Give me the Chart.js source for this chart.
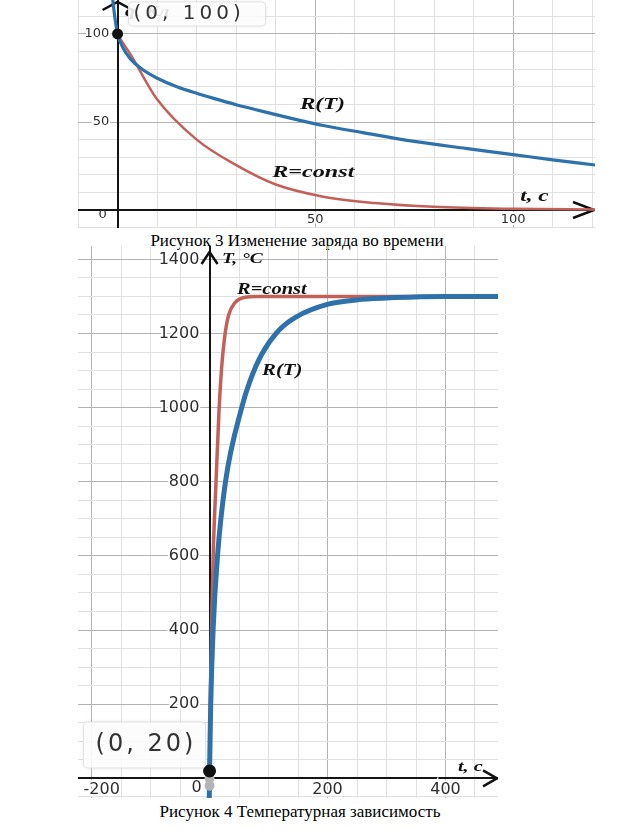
<!DOCTYPE html>
<html>
<head>
<meta charset="utf-8">
<script src="https://cdn.jsdelivr.net/npm/chart.js@4.4.1/dist/chart.umd.min.js"></script>
<style>
  html, body { margin: 0; padding: 0; background: #fff; }
  body { width: 640px; height: 835px; position: relative; overflow: hidden; }
  .plot { position: absolute; }
  .caption {
    position: absolute; left: 0; text-align: center; color: #000;
    font-family: "Liberation Serif", "Times New Roman", serif; font-size: 17px;
  }
</style>
</head>
<body>
<div class="plot" style="left:78px;top:0;width:517px;height:228px"><canvas id="chargeChart"></canvas></div>
<div class="caption" style="top:231px;width:594px">Рисунок 3 Изменение заряда во времени</div>
<div class="plot" style="left:78px;top:246px;width:420px;height:552px"><canvas id="tempChart"></canvas></div>
<div class="caption" style="top:802px;width:600px">Рисунок 4 Температурная зависимость</div>

<script>
// Рисунок 3 - charge q(t)
const chargeTimeRT = [-1.5, -0.6, 0, 1.4, 3.2, 6.5, 9.9, 15, 20, 25, 30, 35, 40, 45, 52, 62, 75, 88, 100, 110, 121];
const chargeRT     = [125, 108, 100, 92, 86, 79.5, 75, 70, 66.3, 63, 59.8, 57, 54.2, 51.5, 48, 44, 39, 35, 31.5, 28.5, 25.5];
const chargeTimeConst = [-0.6, 0, 3.4, 9.8, 20, 30, 40, 52, 65, 80, 100, 121];
const chargeConst     = [103, 100, 88, 63.5, 40, 25.5, 14.5, 7.6, 4, 1.8, 0.7, 0.3];
const chargeStartPoint = [0, 100];
const chargeTickLabelsX = [50, 100];
const chargeTickLabelsY = [50, 100];

// Рисунок 4 - temperature T(t)
const tempTimeRT = [-0.5, 0, 2, 6, 13.5, 27, 54.5, 68.6, 88.5, 116.6, 145, 201, 258, 314, 400, 489];
const tempRT     = [-60, 20, 200, 400, 600, 800, 1000, 1072, 1144, 1207, 1243, 1279, 1292, 1297, 1300, 1300];
const tempTimeConst = [-0.3, 0, 2, 4, 6.5, 11, 16, 20.6, 26, 32, 43, 60, 80, 489];
const tempConst     = [-60, 20, 270, 450, 620, 800, 990, 1110, 1195, 1248, 1283, 1298, 1300, 1300];
const tempStartPoint = [0, 20];
const tempMarkersT = [0, 0];
const tempMarkersY = [0, -20];
const tempTickLabelsX = [-200, 200, 400];
const tempTickLabelsY = [200, 400, 600, 800, 1000, 1200, 1400];

const BLUE = '#2f72ab';
const RED = '#c2615a';

function toPoints(xs, ys) {
    return xs.map((x, i) => ({ x: x, y: ys[i] }));
}

// gridline every `step`, darker line every `major`
function stepTicks(step) {
    return function(scale) {
        const ticks = [];
        for (let v = Math.ceil(scale.min / step) * step; v <= scale.max; v += step) {
            ticks.push({ value: Math.round(v * 1000) / 1000 });
        }
        scale.ticks = ticks;
    };
}

function noPadding(scale) {
    scale.paddingTop = 0; scale.paddingBottom = 0;
    scale.paddingLeft = 0; scale.paddingRight = 0;
}

function makeAxis(opts) {
    return {
        type: 'linear',
        min: opts.min,
        max: opts.max,
        position: opts.position,
        afterBuildTicks: stepTicks(opts.step),
        afterFit: noPadding,
        border: { display: true, color: '#151515', width: 2 },
        grid: {
            drawTicks: false,
            lineWidth: 1,
            color: ctx => (ctx.tick && Math.abs(ctx.tick.value % opts.major) < 1e-6) ? '#b3b3b3' : '#e1e1e1'
        },
        ticks: {
            autoSkip: false,
            maxRotation: 0,
            padding: opts.pad,
            color: '#2e2e2e',
            font: { family: 'DejaVu Sans', size: opts.fontSize },
            textStrokeColor: '#fff',
            textStrokeWidth: 4,
            callback: v => {
                if (!opts.labels.includes(v)) return '';
                // keep the leftmost label inside the grid, like the original
                const lead = (opts.edgeShift && v === opts.labels[0]) ? '    ' : '';
                return lead + v + (opts.suffix || '');
            }
        }
    };
}

// axis arrows, italic captions, point label box
function overlay(cfg) {
    return {
        id: 'overlay',
        beforeDatasetsDraw(chart) {
            const { ctx, chartArea, scales } = chart;
            const ox = scales.x.getPixelForValue(0);
            const oy = scales.y.getPixelForValue(0);
            ctx.save();
            ctx.strokeStyle = '#111';
            ctx.lineWidth = 2.5;
            ctx.beginPath();
            const ay = chartArea.top + cfg.arrowTop;
            ctx.moveTo(ox - cfg.upArrow[0], ay + cfg.upArrow[1]);
            ctx.lineTo(ox, ay);
            ctx.lineTo(ox + cfg.upArrow[0], ay + cfg.upArrow[1]);
            const ax = chartArea.right - 1;
            ctx.moveTo(ax - cfg.rightArrow[0], oy - cfg.rightArrow[1]);
            ctx.lineTo(ax, oy);
            ctx.lineTo(ax - cfg.rightArrow[0], oy + cfg.rightArrow[1]);
            ctx.stroke();
            ctx.restore();
        },
        afterDatasetsDraw(chart) {
            const { ctx, scales } = chart;
            ctx.save();
            ctx.textBaseline = 'middle';
            cfg.texts.forEach(t => {
                ctx.save();
                ctx.font = t.font;
                ctx.fillStyle = '#111';
                ctx.textAlign = 'left';
                ctx.translate(scales.x.getPixelForValue(t.x), scales.y.getPixelForValue(t.y));
                ctx.scale(t.sx, 1);
                ctx.fillText(t.text, 0, 0);
                ctx.restore();
            });
            // "0" at the origin
            ctx.font = cfg.zero.font;
            ctx.fillStyle = '#2e2e2e';
            ctx.textAlign = 'center';
            ctx.fillText('0', scales.x.getPixelForValue(0) + cfg.zero.dx, scales.y.getPixelForValue(0) + cfg.zero.dy);
            // point label box
            const b = cfg.box;
            const px = scales.x.getPixelForValue(b.at[0]);
            const py = scales.y.getPixelForValue(b.at[1]);
            ctx.shadowColor = 'rgba(0,0,0,0.12)';
            ctx.shadowBlur = 4;
            ctx.fillStyle = 'rgba(255,255,255,0.88)';
            ctx.strokeStyle = '#e2e2e2';
            ctx.lineWidth = 1;
            ctx.beginPath();
            ctx.roundRect(px + b.dx, py + b.dy, b.w, b.h, 4);
            ctx.fill();
            ctx.shadowColor = 'transparent';
            ctx.stroke();
            ctx.font = b.font;
            ctx.letterSpacing = b.spacing;
            ctx.fillStyle = '#333';
            ctx.textAlign = 'left';
            ctx.fillText(b.text, px + b.dx + b.tx, py + b.dy + b.h / 2);
            ctx.restore();
        }
    };
}

const italic = size => 'italic bold ' + size + 'px "Liberation Serif", serif';

const baseOptions = {
    responsive: true,
    maintainAspectRatio: false,
    animation: false,
    events: [],
    layout: { padding: 0, autoPadding: false },
    plugins: { legend: { display: false }, tooltip: { enabled: false } }
};

// ---- Рисунок 3 ----
new Chart(document.getElementById('chargeChart'), {
    type: 'line',
    data: {
        datasets: [
            {
                data: toPoints(chargeTimeRT, chargeRT),
                borderColor: BLUE, borderWidth: 3.2, pointRadius: 0,
                cubicInterpolationMode: 'monotone'
            },
            {
                data: toPoints(chargeTimeConst, chargeConst),
                borderColor: RED, borderWidth: 2.5, pointRadius: 0,
                cubicInterpolationMode: 'monotone'
            },
            {
                type: 'scatter',
                data: [{ x: chargeStartPoint[0], y: chargeStartPoint[1] }],
                pointRadius: 5.5, pointBackgroundColor: '#111', pointBorderWidth: 0, order: -1
            }
        ]
    },
    options: Object.assign({}, baseOptions, {
        scales: {
            x: makeAxis({ min: -10, max: 120.7, step: 10, major: 50, labels: chargeTickLabelsX,
                          position: { y: 0 }, pad: 2, fontSize: 13 }),
            y: makeAxis({ min: -10.2, max: 119.3, step: 10, major: 50, labels: chargeTickLabelsY,
                          position: { x: 0 }, pad: 0, fontSize: 13, suffix: '  ' })
        }
    }),
    plugins: [overlay({
        arrowTop: 2, upArrow: [15, 8], rightArrow: [21, 8],
        zero: { font: '13px "DejaVu Sans"', dx: -15, dy: 5 },
        texts: [
            { text: 'q, Кл', x: 1.9, y: 112.5, font: italic(15), sx: 1.35 },
            { text: 'R(T)', x: 46.1, y: 59.7, font: italic(17), sx: 1.36 },
            { text: 'R=const', x: 39.1, y: 21, font: italic(17), sx: 1.42 },
            { text: 't, c', x: 101.8, y: 7.4, font: italic(16), sx: 1.45 }
        ],
        box: { at: chargeStartPoint, text: '(0, 100)', dx: 11, dy: -32, w: 137, h: 24, tx: 5,
               font: '20px "DejaVu Sans"', spacing: '4px' }
    })]
});

// ---- Рисунок 4 ----
new Chart(document.getElementById('tempChart'), {
    type: 'line',
    data: {
        datasets: [
            {
                data: toPoints(tempTimeRT, tempRT),
                borderColor: BLUE, borderWidth: 5, pointRadius: 0,
                cubicInterpolationMode: 'monotone'
            },
            {
                data: toPoints(tempTimeConst, tempConst),
                borderColor: RED, borderWidth: 3.5, pointRadius: 0,
                cubicInterpolationMode: 'monotone'
            },
            {
                type: 'scatter',
                data: toPoints(tempMarkersT, tempMarkersY),
                pointRadius: 5, pointBackgroundColor: '#b4b4b4', pointBorderWidth: 0, order: -1
            },
            {
                type: 'scatter',
                data: [{ x: tempStartPoint[0], y: tempStartPoint[1] }],
                pointRadius: 6.5, pointBackgroundColor: '#111', pointBorderWidth: 0, order: -2
            }
        ]
    },
    options: Object.assign({}, baseOptions, {
        scales: {
            x: makeAxis({ min: -223, max: 489, step: 50, major: 200, labels: tempTickLabelsX,
                          position: { y: 0 }, pad: 2, fontSize: 16, edgeShift: true }),
            y: makeAxis({ min: -53, max: 1436, step: 50, major: 200, labels: tempTickLabelsY,
                          position: { x: 0 }, pad: 0, fontSize: 16, suffix: '  ' })
        }
    }),
    plugins: [overlay({
        arrowTop: 6, upArrow: [8, 12], rightArrow: [14, 8],
        zero: { font: '16px "DejaVu Sans"', dx: -13, dy: 9 },
        texts: [
            { text: 'T, °C', x: 21.2, y: 1401, font: italic(15), sx: 1.3 },
            { text: 'R=const', x: 46.6, y: 1318, font: italic(16), sx: 1.28 },
            { text: 'R(T)', x: 89, y: 1099, font: italic(16), sx: 1.3 },
            { text: 't, c', x: 421, y: 31, font: italic(15), sx: 1.35 }
        ],
        box: { at: tempStartPoint, text: '(0, 20)', dx: -126, dy: -49, w: 122, h: 46, tx: 12,
               font: '24px "DejaVu Sans"', spacing: '3px' }
    })]
});
</script>
</body>
</html>
